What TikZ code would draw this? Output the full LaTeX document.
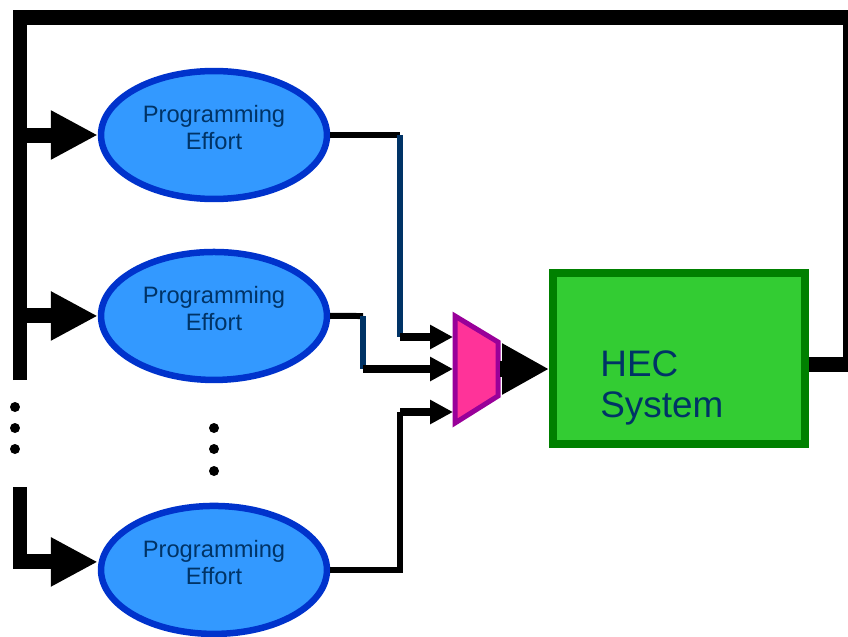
\documentclass[tikz,border=0pt]{standalone}
\usepackage{fontspec}
\setmainfont{Liberation Sans}
\usepackage{tikz}
\usepackage{xcolor}
\usetikzlibrary{shapes.geometric, arrows.meta, positioning}
\definecolor{effblue}{HTML}{3399FF}
\definecolor{effedge}{HTML}{0033CC}
\definecolor{navy}{HTML}{003366}
\definecolor{muxpink}{HTML}{FF3399}
\definecolor{muxedge}{HTML}{990099}
\definecolor{hecgreen}{HTML}{33CC33}
\definecolor{hecedge}{HTML}{008000}
\tikzstyle{effort} = [ellipse, minimum width=4.52cm, minimum height=2.56cm, inner sep=0pt, draw=effedge, fill=effblue, line width=0.13cm, text=navy, align=center, text depth=0.3cm, font=\fontsize{13.5pt}{15pt}\selectfont]
\tikzstyle{hecbox} = [rectangle, minimum width=5.04cm, minimum height=3.42cm, draw=hecedge, fill=hecgreen, line width=0.16cm]
\tikzstyle{hectext} = [text=navy, align=left, inner sep=0pt, font=\fontsize{21pt}{23.3pt}\selectfont]
\tikzstyle{dot} = [circle, minimum size=0.2cm, fill=black, inner sep=0pt]
\tikzstyle{loopline} = [line width=0.3cm]
\tikzstyle{bigarrow} = [line width=0.3cm, -{Triangle[length=0.94cm, width=0.92cm]}]
\tikzstyle{outarrow} = [line width=0.32cm, -{Triangle[length=0.94cm, width=0.96cm]}]
\tikzstyle{inarrow} = [line width=0.16cm, -{Triangle[length=0.46cm, width=0.46cm]}]
\tikzstyle{wire} = [line width=0.12cm]
\tikzstyle{navywire} = [line width=0.12cm, draw=navy]

\begin{document}
\begin{tikzpicture}[x=0.02cm, y=-0.02cm, node distance=3.62cm]
    \useasboundingbox (0,0) rectangle (848,636);

        % Nodes
        \node (eff1) [effort] at (214,135) {Programming\\Effort};
        \node (eff2) [effort, below of=eff1] {Programming\\Effort};
        \node (eff3) [effort, below of=eff2, yshift=-1.46cm] {Programming\\Effort};
        \node (hec) [hecbox] at (679,358.5) {};
        \node (hectxt) [hectext, anchor=base west] at (600,417) {HEC\\System};
        \foreach \yy [count=\i] in {407,428,449} \node (ldot\i) [dot] at (15,\yy) {};
        \foreach \yy [count=\i] in {428,449,471} \node (mdot\i) [dot] at (214,\yy) {};

        % Coordinates
        \coordinate (topleft) at (20,17);
        \coordinate (topright) at (848,17);
        \coordinate (barend) at (20,380);
        \coordinate (lowtop) at (20,487);
        \coordinate (k1a) at (400,135);
        \coordinate (k1b) at (400,337);
        \coordinate (k2a) at (363,316);
        \coordinate (k2b) at (363,369);
        \coordinate (k3) at (400,412);
        \coordinate (in1) at (453,337);
        \coordinate (in2) at (453,369);
        \coordinate (in3) at (453,412);
        \coordinate (muxout) at (500,369);
        \coordinate (fbout) at (848,364);
        \coordinate (fbR) at (845.5,364);
        \coordinate (fbT) at (845.5,17);

        % Mux
        \draw [line width=0.1cm, draw=muxedge, fill=muxpink] (455,316) -- (498,342) -- (498,396) -- (455,423) -- cycle;

        % Arrows
        \draw [loopline] (barend) -- (topleft) -- (topright);
        \draw [bigarrow] (eff1.west -| topleft) -- (eff1.west);
        \draw [bigarrow] (eff2.west -| topleft) -- (eff2.west);
        \draw [bigarrow] (lowtop) |- ([yshift=0.16cm]eff3.west);
        \draw [wire] (eff1.east) -- (k1a);
        \draw [navywire] (k1a) -- (k1b);
        \draw [inarrow] (k1b) -- (in1);
        \draw [wire] (eff2.east) -- (k2a);
        \draw [navywire] (k2a) -- (k2b);
        \draw [inarrow] (k2b) -- (in2);
        \draw [wire] (eff3.east) -| (k3);
        \draw [inarrow] (k3) -- (in3);
        \draw [outarrow] (muxout) -- (muxout -| hec.west);
        \draw [loopline] (hec.east |- fbout) -- (fbout);
        \draw [line width=0.1cm] (fbR) -- (fbT);

    \end{tikzpicture}
\end{document}
